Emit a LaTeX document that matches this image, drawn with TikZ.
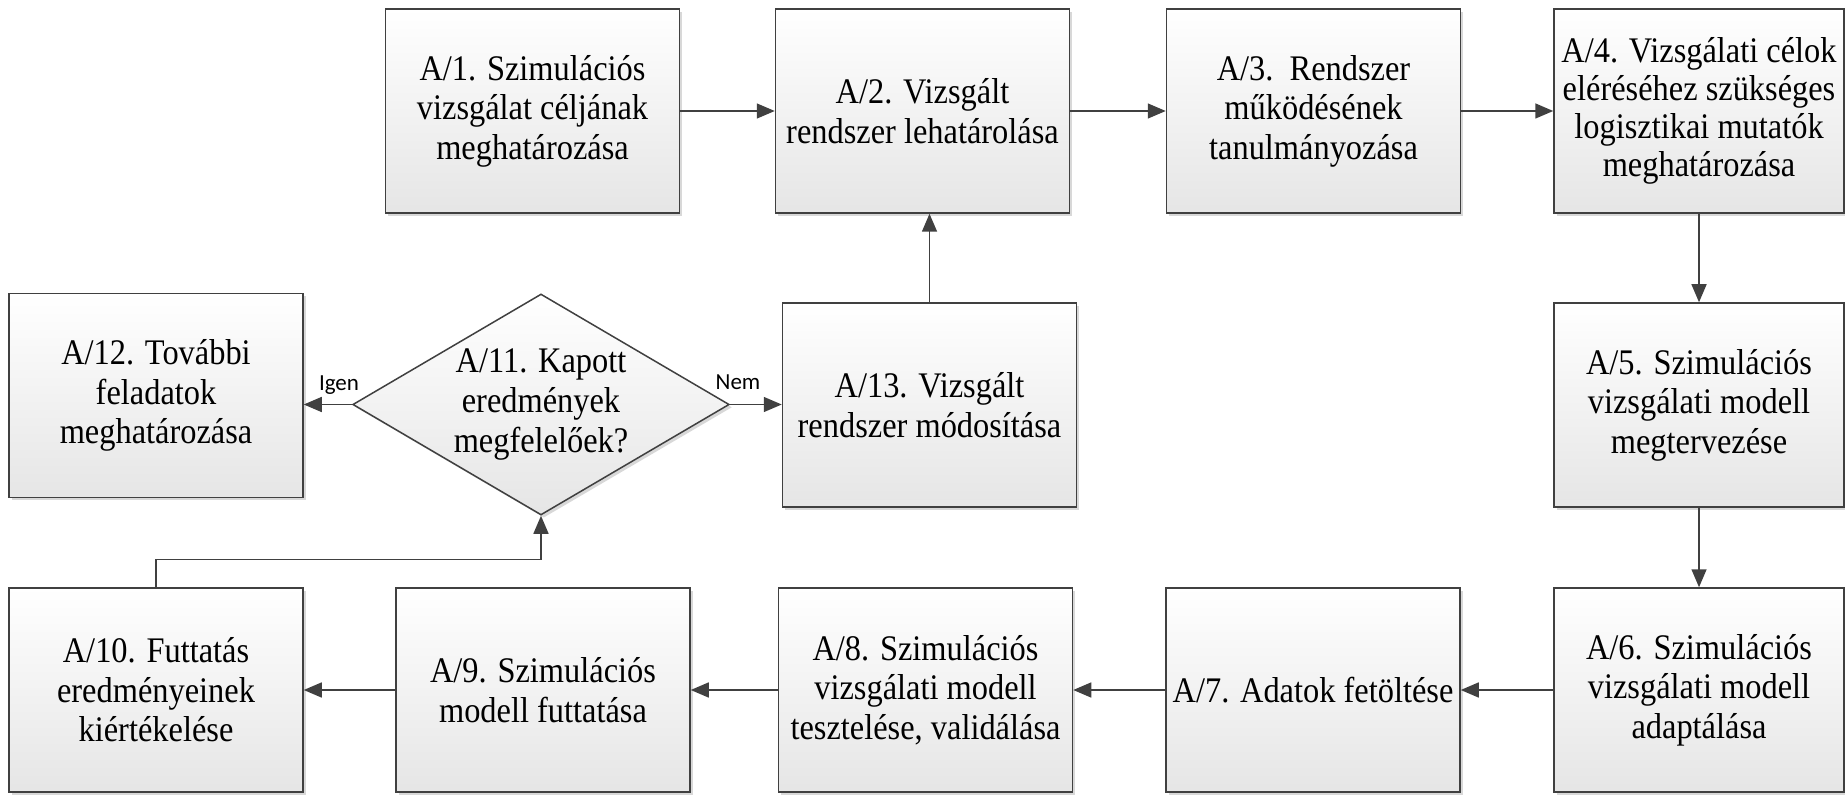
\documentclass[tikz,border=0pt]{standalone}
\usepackage{fontspec}
\setmainfont[FakeStretch=0.9]{Liberation Serif}
\newfontfamily\labelfont{Carlito}
\usetikzlibrary{shapes.geometric,arrows.meta,shadows}
\definecolor{edge}{HTML}{404040}
\begin{document}
\begin{tikzpicture}[x=0.5pt,y=-0.5pt,
  fillstyle/.style={draw=edge, line width=0.75pt, top color=white, bottom color=black!10,
    drop shadow={shadow xshift=1.4pt, shadow yshift=-1.4pt, fill=black!30, opacity=0.5}},
  box/.style={fillstyle, minimum width=147pt, minimum height=102pt, inner sep=2pt,
    align=center, font=\fontsize{18}{19.8}\selectfont},
  arr/.style={draw=edge, line width=0.75pt, -{Triangle[length=9pt,width=7.5pt]}},
  lab/.style={font=\labelfont\fontsize{11.5}{13}\selectfont, inner sep=0pt}]
\useasboundingbox (0,0) rectangle (1845,796);
% row 1
\node[box] (a1) at (532.5,111) {A/1. Szimulációs\\vizsgálat céljának\\meghatározása};
\node[box] (a2) at (922.5,111) {A/2. Vizsgált\\rendszer lehatárolása};
\node[box] (a3) at (1313.5,111) {A/3.\ \ Rendszer\\működésének\\tanulmányozása};
\node[box, minimum width=145pt, font=\fontsize{18}{19}\selectfont] (a4) at (1699,111) {A/4. Vizsgálati célok\\eléréséhez szükséges\\logisztikai mutatók\\meghatározása};
% row 2
\node[box] (a12) at (156,395.5) {A/12. További\\feladatok\\meghatározása};
\node[fillstyle, diamond, minimum width=188.25pt, minimum height=110.5pt, inner sep=0pt] (a11) at (541,404.5) {};
\node[align=center, font=\fontsize{18}{19.8}\selectfont] (a11t) at (a11) {A/11. Kapott\\eredmények\\megfelelőek?};
\node[box] (a13) at (929.5,405) {A/13. Vizsgált\\rendszer módosítása};
\node[box, minimum width=145pt] (a5) at (1699,405) {A/5. Szimulációs\\vizsgálati modell\\megtervezése};
% row 3
\node[box] (a10) at (156,690) {A/10. Futtatás\\eredményeinek\\kiértékelése};
\node[box] (a9) at (543,690) {A/9. Szimulációs\\modell futtatása};
\node[box] (a8) at (925.5,690) {A/8. Szimulációs\\vizsgálati modell\\tesztelése, validálása};
\node[box] (a7) at (1313,690) {A/7. Adatok fetöltése};
\node[box, minimum width=145pt] (a6) at (1699,690) {A/6. Szimulációs\\vizsgálati modell\\adaptálása};
% connectors
\draw[arr] (a1) -- (a2);
\draw[arr] (a2) -- (a3);
\draw[arr] (a3) -- (a4);
\draw[arr] (a4) -- (a5);
\draw[arr] (a5) -- (a6);
\draw[arr] (a6) -- (a7);
\draw[arr] (a7) -- (a8);
\draw[arr] (a8) -- (a9);
\draw[arr] (a9) -- (a10);
\draw[arr] (a10.north) -- ++(0,-28) -| (a11.south);
\draw[arr] (a11.west) -- (a11.west -| a12.east);
\draw[arr] (a11.east) -- (a11.east -| a13.west);
\draw[arr] (a13.north) -- (a13.north |- a2.south);
\node[lab] (igen) at (339,385) {Igen};
\node[lab] (nem) at (738,382) {Nem};
\end{tikzpicture}
\end{document}
